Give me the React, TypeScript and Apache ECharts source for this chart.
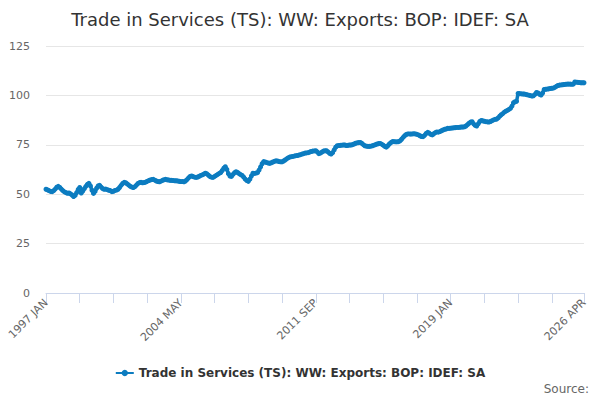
import React, { useEffect, useRef } from 'react';
import * as echarts from 'echarts';

const TITLE = 'Trade in Services (TS): WW: Exports: BOP: IDEF: SA';
const FIRST_YEAR = 1997;
const MONTHS = ['JAN', 'FEB', 'MAR', 'APR', 'MAY', 'JUN', 'JUL', 'AUG', 'SEP', 'OCT', 'NOV', 'DEC'];
const Y_TICKS = [0, 25, 50, 75, 100, 125];

// monthly values, one row per year, 1997 JAN .. 2026 APR
const values: number[] = [
  52.5, 52.2, 51.8, 51.4, 51.3, 51.8, 52.6, 53.5, 54.0, 53.4, 52.6, 51.8,
  51.2, 50.8, 50.5, 50.6, 50.2, 49.6, 48.8, 49.4, 50.8, 52.4, 53.4, 50.6,
  51.6, 52.8, 54.0, 55.0, 55.5, 54.2, 52.0, 50.4, 51.4, 53.0, 54.2, 54.5,
  53.6, 52.8, 52.5, 52.6, 52.3, 52.0, 51.8, 51.3, 51.5, 51.9, 52.1, 52.5,
  53.4, 54.5, 55.4, 56.0, 55.8, 55.2, 54.6, 54.0, 53.6, 53.4, 53.8, 54.6,
  55.4, 55.9, 56.0, 55.8, 55.9, 56.1, 56.5, 56.9, 57.2, 57.4, 57.5, 57.1,
  56.7, 56.4, 56.3, 56.6, 57.0, 57.3, 57.5, 57.3, 57.2, 57.0, 57.0, 56.9,
  56.8, 56.8, 56.7, 56.5, 56.4, 56.4, 56.3, 56.7, 57.4, 58.3, 59.0, 59.2,
  58.9, 58.6, 58.5, 58.7, 59.1, 59.5, 59.8, 60.2, 60.6, 60.3, 59.6, 58.9,
  58.6, 58.5, 59.0, 59.5, 60.0, 60.5, 61.0, 62.0, 63.2, 63.9, 62.6, 60.4,
  59.2, 59.0, 60.0, 60.9, 61.4, 61.0, 60.4, 59.9, 59.5, 58.6, 57.6, 56.9,
  56.5, 57.6, 59.2, 60.6, 60.5, 60.7, 60.9, 62.2, 63.8, 65.4, 66.5, 66.3,
  66.0, 65.8, 65.6, 65.9, 66.3, 66.6, 66.9, 66.8, 66.5, 66.4, 66.4, 66.8,
  67.3, 67.9, 68.4, 68.8, 69.0, 69.1, 69.3, 69.5, 69.6, 69.8, 70.0, 70.3,
  70.5, 70.8, 70.9, 71.0, 71.3, 71.6, 71.8, 71.9, 72.0, 71.4, 70.5, 70.8,
  71.3, 71.8, 72.0, 72.0, 71.4, 70.7, 70.3, 71.0, 72.4, 73.8, 74.5, 74.6,
  74.7, 74.8, 74.9, 74.9, 74.6, 74.7, 74.9, 74.9, 75.1, 75.4, 75.8, 76.0,
  76.1, 76.2, 75.8, 75.1, 74.5, 74.3, 74.2, 74.2, 74.3, 74.5, 74.8, 75.1,
  75.4, 75.6, 75.7, 75.3, 74.8, 74.2, 73.8, 74.5, 75.4, 76.1, 76.6, 76.6,
  76.5, 76.5, 76.6, 77.0, 77.8, 78.8, 79.6, 80.2, 80.5, 80.5, 80.4, 80.5,
  80.6, 80.5, 80.3, 80.0, 79.6, 79.2, 79.1, 79.8, 80.7, 81.3, 80.9, 80.3,
  80.0, 80.6, 81.2, 81.5, 81.4, 81.7, 82.1, 82.5, 82.8, 83.0, 83.3, 83.3,
  83.4, 83.5, 83.6, 83.7, 83.8, 83.8, 83.9, 84.0, 84.0, 84.1, 84.5, 85.2,
  85.9, 86.5, 86.7, 85.6, 84.8, 84.5, 85.6, 86.8, 87.3, 87.1, 86.9, 86.7,
  86.6, 86.5, 86.8, 87.2, 87.6, 87.9, 88.0, 88.6, 89.5, 90.2, 90.8, 91.5,
  92.0, 92.4, 92.9, 93.4, 94.6, 96.3, 96.8, 97.0, 101.0, 100.9, 100.8, 100.7,
  100.7, 100.5, 100.3, 100.1, 99.9, 99.7, 99.8, 100.5, 101.5, 101.2, 100.6, 100.2,
  101.2, 103.0, 103.1, 103.2, 103.3, 103.5, 103.6, 103.7, 104.1, 104.6, 105.0, 105.2,
  105.3, 105.4, 105.5, 105.6, 105.7, 105.7, 105.7, 105.6, 105.7, 106.8, 106.7, 106.6,
  106.5, 106.4, 106.4, 106.4,
];

const categories: string[] = values.map(
  (_, i) => `${FIRST_YEAR + Math.floor(i / 12)} ${MONTHS[i % 12]}`
);

const FONT = '"DejaVu Sans", sans-serif';
const LAST = categories.length - 1;
const LINE_COLOR = '#0c7cc0';

const App: React.FC = () => {
  const chartRef = useRef<HTMLDivElement>(null);

  useEffect(() => {
    document.body.style.margin = '0';
    if (!chartRef.current) return;
    const chart = echarts.init(chartRef.current, undefined, { renderer: 'svg' });

    const option = {
      animation: false,
      textStyle: { fontFamily: FONT },
      title: {
        text: TITLE,
        left: 'center',
        top: 5,
        textStyle: { fontSize: 18, fontWeight: 'normal', color: '#333333', fontFamily: FONT },
      },
      legend: {
        bottom: 16,
        left: 'center',
        itemWidth: 18,
        itemHeight: 8,
        textStyle: { fontSize: 12, fontWeight: 'bold', color: '#333333', fontFamily: FONT },
        data: [{ name: TITLE }],
      },
      graphic: [
        {
          type: 'text',
          right: 11,
          bottom: 5,
          style: { text: 'Source:', fontSize: 12, fill: '#666666', fontFamily: FONT },
        },
      ],
      grid: { left: 46, right: 16, top: 46, bottom: 107 },
      xAxis: {
        type: 'category',
        data: categories,
        boundaryGap: false,
        axisLine: { lineStyle: { color: '#ccd6eb' } },
        axisTick: {
          length: 10,
          lineStyle: { color: '#ccd6eb' },
          interval: (idx: number) => idx % 22 === 0 || idx === LAST,
        },
        axisLabel: {
          rotate: 45,
          color: '#666666',
          fontSize: 11,
          fontFamily: FONT,
          margin: 8,
          interval: (idx: number) => idx % 88 === 0 || idx === LAST,
        },
        splitLine: { show: false },
      },
      yAxis: {
        type: 'value',
        min: Y_TICKS[0],
        max: Y_TICKS[Y_TICKS.length - 1],
        interval: 25,
        axisLine: { show: false },
        axisTick: { show: false },
        axisLabel: { color: '#666666', fontSize: 11, fontFamily: FONT, margin: 16 },
        splitLine: { lineStyle: { color: '#e6e6e6' } },
      },
      series: [
        {
          name: TITLE,
          type: 'line',
          data: values,
          symbol: 'circle',
          symbolSize: 5,
          showSymbol: true,
          showAllSymbol: true,
          lineStyle: { color: LINE_COLOR, width: 3.5 },
          itemStyle: { color: LINE_COLOR, borderWidth: 0 },
        },
      ],
    };

    chart.setOption(option);
    return () => {
      chart.dispose();
    };
  }, []);

  return <div ref={chartRef} style={{ width: '600px', height: '400px' }}></div>;
};

export default App;
